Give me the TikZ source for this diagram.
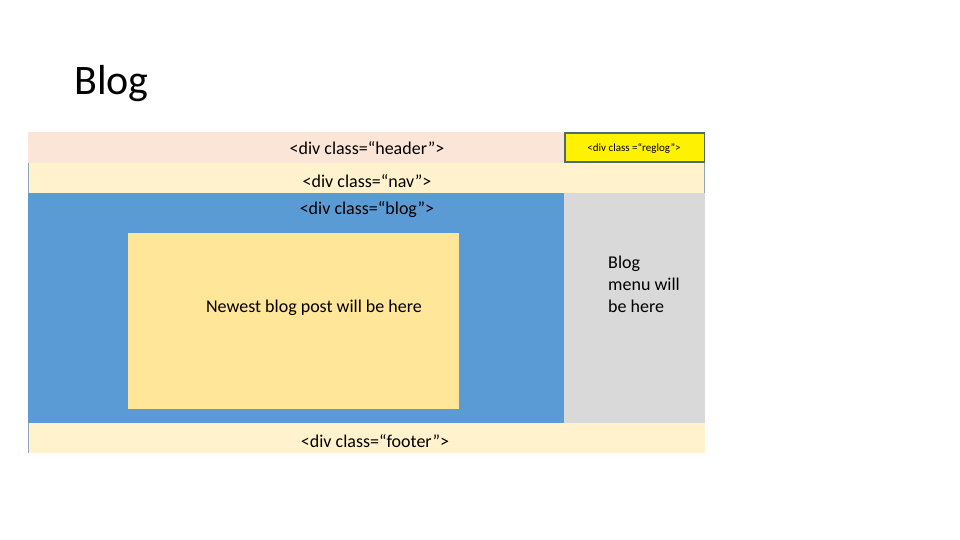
\documentclass[tikz,border=0pt]{standalone}
\usepackage{fontspec}
\setmainfont{Carlito}
\definecolor{hdr}{HTML}{FBE5D6}
\definecolor{navc}{HTML}{FFF2CC}
\definecolor{blogc}{HTML}{5B9BD5}
\definecolor{menuc}{HTML}{D9D9D9}
\definecolor{postc}{HTML}{FFE699}
\definecolor{regbd}{HTML}{4E6B6B}
\definecolor{edgec}{HTML}{8EA4B8}
\begin{document}
\begin{tikzpicture}[x=1pt,y=-1pt,
  region/.style={draw=none,inner sep=0pt,outer sep=0pt},
  lbl/.style={font=\fontsize{18}{22}\selectfont,inner sep=0pt}]
\useasboundingbox (0,0) rectangle (960,540);
\fill[white] (0,0) rectangle (960,540);
\node[anchor=base west,inner sep=0pt,font=\fontsize{42}{50}\selectfont] (title) at (74,95) {Blog};
% regions
\fill[hdr] (28,132) rectangle (705,163);
\fill[navc] (28,163) rectangle (705,193);
\fill[blogc] (28,193) rectangle (564,423);
\fill[menuc] (564,193) rectangle (705,423);
\fill[navc] (28,423) rectangle (705,453);
\draw[edgec,line width=0.8pt] (28.4,163) -- (28.4,193) (28.4,423) -- (28.4,453);
\draw[edgec,line width=0.8pt] (704.6,163) -- (704.6,193);
\fill[postc] (128,233) rectangle (459,409);
\draw[regbd,fill=yellow,line width=1.5pt] (565,133) rectangle (704.5,162);
% labels
\node[lbl] (header) at (367,148) {<div class=“header”>};
\node[font=\fontsize{11}{13}\selectfont,inner sep=0pt] (reglog) at (634,148) {<div class =“reglog”>};
\node[lbl] (nav) at (367,181) {<div class=“nav”>};
\node[lbl] (blog) at (367,210) {<div class=“blog”>};
\node[lbl] (post) at (314,308) {Newest blog post will be here};
\node[lbl,anchor=north west,align=left,font=\fontsize{18}{22}\selectfont] (menu) at (608,256) {Blog\\menu will\\be here};
\node[lbl] (footer) at (375,441) {<div class=“footer”>};
\end{tikzpicture}
\end{document}
